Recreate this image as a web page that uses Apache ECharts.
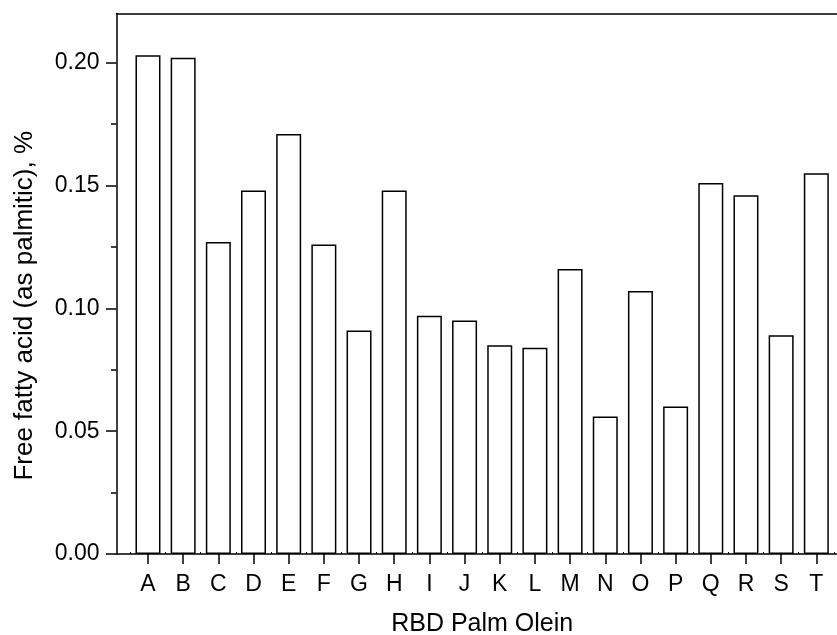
<!DOCTYPE html>
<html>
<head>
<meta charset="utf-8">
<script src="https://cdn.jsdelivr.net/npm/echarts@6/dist/echarts.min.js"></script>
<style>
html,body{margin:0;padding:0;background:#fff;}
#chart{width:837px;height:635px;}
</style>
</head>
<body>
<div id="chart"></div>
<script>
const categories = ['A','B','C','D','E','F','G','H','I','J','K','L','M','N','O','P','Q','R','S','T'];
const ffaValues = [0.203,0.202,0.127,0.148,0.171,0.126,0.091,0.148,0.097,0.095,0.085,0.084,0.116,0.056,0.107,0.060,0.151,0.146,0.089,0.155];
const yTicks = [0, 0.05, 0.10, 0.15, 0.20];
const yMinorTicks = [0.025, 0.075, 0.125, 0.175];
const xTitle = 'RBD Palm Olein';
const yTitle = 'Free fatty acid (as palmitic), %';

const positions = categories.map((c, i) => i + 1);
const halfPositions = [0].concat(positions).map(p => p + 0.5);
const FONT = 'Liberation Sans, Arial, Helvetica, sans-serif';

const chart = echarts.init(document.getElementById('chart'), null, {renderer: 'canvas'});
const xMin = 0.105, xMax = 20.895;
chart.setOption({
  animation: false,
  backgroundColor: '#fff',
  grid: {left: 116.5, top: 13.5, width: 731.3, height: 540.5, containLabel: false, outerBoundsMode: 'none'},
  xAxis: [
    {
      type: 'value', position: 'bottom', min: xMin, max: xMax,
      axisLine: {show: true, lineStyle: {color: '#000', width: 1.5}},
      axisTick: {show: true, customValues: positions, length: 10, lineStyle: {color: '#000', width: 1.5}},
      axisLabel: {show: true, customValues: positions, margin: 19, color: '#000', fontSize: 23, fontFamily: FONT,
        formatter: v => categories[Math.round(v) - 1] || ''},
      splitLine: {show: false},
      name: xTitle, nameLocation: 'middle', nameGap: 58,
      nameTextStyle: {color: '#000', fontSize: 25, fontFamily: FONT}
    },
    {
      type: 'value', position: 'bottom', min: xMin, max: xMax,
      axisLine: {show: false},
      axisTick: {show: true, inside: true, customValues: halfPositions, length: 2, lineStyle: {color: '#000', width: 1}},
      axisLabel: {show: false},
      splitLine: {show: false}
    },
    {
      type: 'value', position: 'top', min: xMin, max: xMax,
      axisLine: {show: true, lineStyle: {color: '#000', width: 1.5}},
      axisTick: {show: false},
      axisLabel: {show: false},
      splitLine: {show: false}
    }
  ],
  yAxis: [
    {
      type: 'value', position: 'left', min: 0, max: 0.22,
      axisLine: {show: true, lineStyle: {color: '#000', width: 1.5}},
      axisTick: {show: true, customValues: yTicks, length: 10.5, lineStyle: {color: '#000', width: 1.5}},
      axisLabel: {show: true, customValues: yTicks, margin: 17, color: '#000', fontSize: 23, fontFamily: FONT,
        formatter: v => v.toFixed(2)},
      splitLine: {show: false},
      name: yTitle, nameLocation: 'middle', nameGap: 79,
      nameTextStyle: {color: '#000', fontSize: 26, fontFamily: FONT, padding: [0, 44, 0, 0]}
    },
    {
      type: 'value', position: 'left', min: 0, max: 0.22,
      axisLine: {show: false},
      axisTick: {show: true, customValues: yMinorTicks, length: 5.5, lineStyle: {color: '#000', width: 1.5}},
      axisLabel: {show: false},
      splitLine: {show: false}
    }
  ],
  series: [{
    type: 'bar',
    xAxisIndex: 0, yAxisIndex: 0,
    data: positions.map((p, i) => [p, ffaValues[i]]),
    barWidth: 25,
    itemStyle: {color: '#fff', borderColor: '#000', borderWidth: 1.5},
    emphasis: {disabled: true},
    silent: true
  }]
});
</script>
</body>
</html>
